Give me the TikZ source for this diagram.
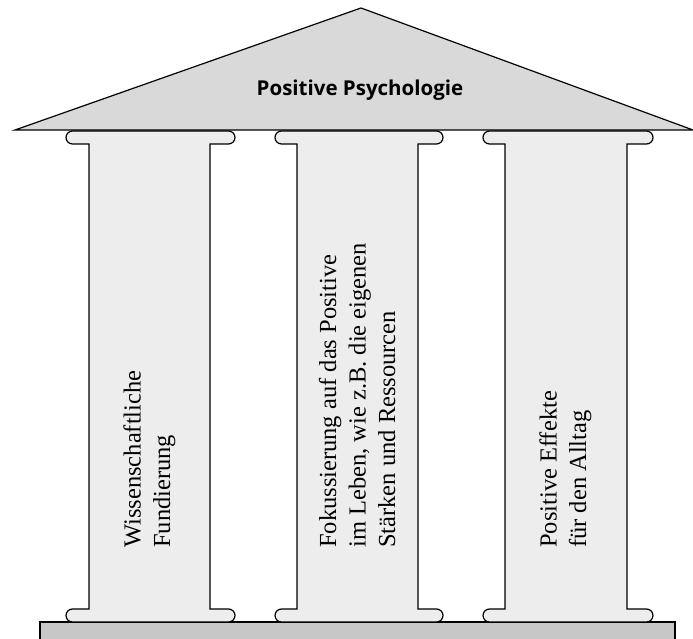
\documentclass[tikz,border=0pt]{standalone}
\usepackage{fontspec}
\setmainfont{Liberation Serif}
\newfontfamily\titlefont{Open Sans}
\begin{document}
\begin{tikzpicture}[x=1pt,y=1pt,
  outline/.style={draw=black,line width=1.2pt,line join=miter},
  rooffill/.style={outline,fill=roofgrey},
  colfill/.style={outline,fill=colgrey},
  basefill/.style={outline,fill=basegrey},
  pillartext/.style={rotate=90,anchor=west,inner sep=0pt,align=left,
    font=\fontsize{24.5}{29.5}\selectfont},
  titletext/.style={inner sep=0pt,font=\titlefont\bfseries\fontsize{20.5}{24}\selectfont}]
\definecolor{roofgrey}{HTML}{D9D9D9}
\definecolor{colgrey}{HTML}{EDEDED}
\definecolor{basegrey}{HTML}{C7C7C7}
\useasboundingbox (0,0) rectangle (693,639);
\clip (0,0) rectangle (693,639);
% platform
\draw[basefill] (40,17) -- (675,17) -- (675,-5) -- (40,-5) -- cycle;
% pillars: cl sl sr cr
\foreach \cl/\sl/\sr/\cr in {66/89/210/235, 275/297/418/443, 483/505/627/653}{
  \draw[colfill] (\sl,30) -- (\sl,495) -- ({\cl+6.5},495)
    arc[start angle=270,end angle=90,radius=6.5]
    -- ({\cr-6.5},508) arc[start angle=90,end angle=-90,radius=6.5]
    -- (\sr,495) -- (\sr,30) -- ({\cr-6.5},30)
    arc[start angle=90,end angle=-90,radius=6.5]
    -- ({\cl+6.5},17) arc[start angle=270,end angle=90,radius=6.5]
    -- cycle;
}
% roof
\draw[rooffill] (15,509) -- (361,631) -- (693,509) -- cycle;
\node[titletext] (title) at (360,548.5) {Positive Psychologie};
\node[pillartext] (p1) at (149.5,91) {Wissenschaftliche\\Fundierung};
\node[pillartext] (p2) at (357,91) {Fokussierung auf das Positive\\im Leben, wie z.B. die eigenen\\Stärken und Ressourcen};
\node[pillartext] (p3) at (565.5,91) {Positive Effekte\\für den Alltag};
\end{tikzpicture}
\end{document}
